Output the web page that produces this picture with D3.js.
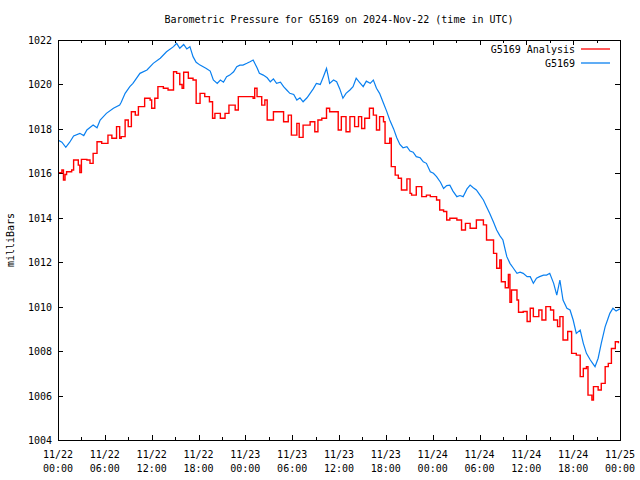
<!DOCTYPE html>
<html><head><meta charset="utf-8">
<script src="https://cdn.jsdelivr.net/npm/d3@7"></script>
<style>
html,body{margin:0;padding:0;background:#fff;}
text{font-family:"DejaVu Sans Mono","Liberation Mono",monospace;font-size:10px;fill:#000;}
</style></head>
<body>
<svg id="chart" width="640" height="480"></svg>
<script>
// Hours after 2024-11-22 00:00 UTC
const analysisHours = [0,0.5,0.7,0.9,1.1,1.75,2.0,2.6,2.8,3.0,3.7,4.1,4.5,5.0,5.6,6.4,6.9,7.5,7.9,8.1,8.6,9.0,9.4,9.9,10.3,10.7,11.1,11.8,12.0,12.4,12.8,13.5,14.1,14.8,15.2,15.6,15.9,16.1,16.7,17.3,17.7,18.2,18.8,19.4,19.8,20.1,20.8,21.4,21.9,22.7,23.1,24.2,25.0,25.2,25.5,26.1,26.5,26.8,27.6,28.4,28.9,29.5,29.9,30.6,30.9,31.4,32.3,32.9,33.3,33.8,34.4,34.8,35.7,35.9,36.3,36.9,37.4,38.0,38.5,38.9,39.3,39.9,40.4,40.8,41.2,41.7,41.9,42.5,42.7,43.2,43.6,44.0,44.7,45.1,45.3,45.9,46.6,47.2,47.7,48.5,48.9,49.4,49.8,50.2,51.1,51.7,52.2,52.8,53.6,54.5,54.9,55.8,56.2,56.6,56.8,57.3,57.7,57.9,58.1,58.8,59.0,59.6,60.1,60.5,60.9,61.6,62.0,62.5,63.1,63.5,64.0,64.3,64.7,65.3,65.8,66.4,66.9,67.3,67.7,67.9,68.4,68.6,69.2,69.6,70.1,70.5,70.9,71.4,71.8];
const analysisValues = [1016.03,1016.15,1015.7,1015.95,1016.07,1016.15,1016.6,1016.37,1016.03,1016.63,1016.6,1016.45,1016.9,1017.42,1017.35,1017.72,1017.58,1018.1,1017.58,1017.65,1018.4,1018.1,1018.77,1018.62,1019.0,1019.0,1019.38,1019.3,1018.93,1019.38,1019.9,1019.83,1019.75,1020.57,1020.5,1020.0,1019.83,1020.55,1020.28,1020.2,1019.15,1019.6,1019.45,1019.22,1018.48,1018.7,1018.48,1018.7,1019.07,1018.85,1019.45,1019.45,1019.38,1019.83,1019.45,1019.07,1019.3,1018.4,1018.77,1018.77,1018.32,1018.62,1017.72,1018.25,1017.62,1018.17,1018.32,1017.87,1018.4,1018.48,1018.93,1018.77,1018.77,1017.95,1018.55,1017.87,1018.55,1018.1,1018.55,1018.02,1018.48,1018.93,1018.62,1017.95,1018.55,1018.32,1017.35,1017.58,1016.3,1015.92,1015.78,1015.25,1015.75,1015.1,1015.02,1015.4,1014.95,1015.02,1014.95,1014.8,1014.35,1014.28,1013.9,1013.98,1013.9,1013.45,1013.75,1013.53,1013.9,1013.68,1013.0,1012.4,1011.73,1012.1,1011.12,1010.85,1011.45,1010.2,1010.75,1010.3,1009.75,1009.78,1009.33,1009.93,1009.55,1009.85,1009.4,1010.0,1009.85,1009.4,1009.1,1009.55,1008.5,1008.88,1007.9,1007.82,1006.85,1007.22,1007.3,1006.02,1005.8,1006.4,1006.25,1006.55,1007.3,1007.45,1008.12,1008.42,1008.35];

const stationHours = [0,0.5,1.0,1.5,2.0,2.8,3.3,3.7,4.5,5.0,5.4,6.2,7.1,7.9,8.1,8.6,9.2,9.6,10.5,11.4,12.2,13.1,13.9,14.8,15.2,15.6,16.1,16.5,16.9,17.3,17.7,18.2,19.0,19.5,19.9,20.4,20.8,21.2,21.6,22.0,22.5,22.9,23.3,23.7,24.2,24.6,25.0,25.5,25.8,26.3,26.8,27.2,27.6,28.0,28.5,28.9,29.3,29.7,30.2,30.6,31.0,31.4,31.9,32.3,32.7,33.1,33.6,34.0,34.4,34.6,34.8,35.3,35.7,36.1,36.5,36.9,37.4,37.8,38.2,38.6,39.1,39.5,40.0,40.4,40.8,41.2,41.7,42.1,42.5,43.0,43.4,43.8,44.2,44.7,45.1,45.5,45.9,46.4,46.8,47.2,47.7,48.1,48.5,49.0,49.4,49.8,50.2,50.6,51.1,51.5,51.9,52.4,52.8,53.2,53.6,54.0,54.5,54.9,55.3,55.8,56.2,56.6,57.0,57.5,57.9,58.3,58.8,59.2,59.6,60.1,60.5,60.9,61.3,61.7,62.2,62.6,63.0,63.5,63.9,64.3,64.7,65.2,65.6,66.0,66.4,66.9,67.3,67.7,68.2,68.5,68.8,69.2,69.6,70.1,70.4,70.7,71.1,71.5,72.0];
const stationValues = [1017.5,1017.4,1017.17,1017.4,1017.68,1017.8,1017.7,1017.95,1018.17,1018.05,1018.4,1018.7,1018.93,1019.07,1019.2,1019.6,1019.9,1020.05,1020.5,1020.65,1020.95,1021.18,1021.47,1021.7,1021.85,1021.63,1021.8,1021.6,1021.7,1021.25,1021.0,1020.87,1020.72,1020.6,1020.2,1020.05,1020.2,1020.1,1020.35,1020.42,1020.57,1020.8,1020.87,1020.87,1020.95,1021.02,1021.1,1020.75,1020.5,1020.42,1020.3,1020.12,1020.25,1020.05,1020.1,1019.9,1019.75,1019.6,1019.55,1019.3,1019.4,1019.22,1019.4,1019.6,1019.8,1020.05,1020.0,1020.35,1020.72,1020.4,1020.05,1020.2,1020.12,1019.8,1019.38,1019.6,1019.75,1019.9,1020.28,1020.1,1019.9,1020.15,1020.05,1020.2,1019.83,1019.6,1019.15,1018.8,1018.4,1018.0,1017.6,1017.3,1017.15,1017.2,1017.0,1016.95,1016.75,1016.7,1016.52,1016.45,1016.07,1016.0,1015.85,1015.6,1015.32,1015.45,1015.47,1015.2,1014.95,1015.0,1014.95,1015.3,1015.47,1015.35,1015.25,1015.05,1014.8,1014.5,1014.2,1013.8,1013.45,1013.2,1013.0,1012.25,1011.95,1011.75,1011.5,1011.55,1011.5,1011.35,1011.35,1011.05,1011.28,1011.35,1011.42,1011.42,1011.5,1011.05,1010.52,1011.2,1010.3,1009.93,1009.85,1009.4,1008.8,1008.95,1008.35,1007.9,1007.6,1007.45,1007.3,1007.68,1008.35,1009.1,1009.4,1009.7,1009.93,1009.8,1009.9];

const yTicks = [1004,1006,1008,1010,1012,1014,1016,1018,1020,1022];
const xTickHours = [0,6,12,18,24,30,36,42,48,54,60,66,72];
const xTickDates = ["11/22","11/22","11/22","11/22","11/23","11/23","11/23","11/23","11/24","11/24","11/24","11/24","11/25"];
const xTickTimes = ["00:00","06:00","12:00","18:00","00:00","06:00","12:00","18:00","00:00","06:00","12:00","18:00","00:00"];
const seriesNames = ["G5169 Analysis","G5169"];
const seriesColors = ["#ff0000","#0a80f0"];

const L=58, R=620, T=40, B=440;
const svg = d3.select("#chart");
const x = d3.scaleLinear().domain([0,72]).range([L,R]);
const y = d3.scaleLinear().domain([1004,1022]).range([B,T]);

svg.append("text").attr("x",339).attr("y",23).attr("text-anchor","middle")
  .text("Barometric Pressure for G5169 on 2024-Nov-22 (time in UTC)");
svg.append("text").attr("transform","translate(14,240) rotate(-90)").attr("text-anchor","middle").text("milliBars");

const tk = svg.append("g").attr("stroke","#000").attr("stroke-width",1).attr("shape-rendering","crispEdges");
yTicks.forEach(v=>{
  const yy=Math.round(y(v))+0.5;
  tk.append("line").attr("x1",L).attr("x2",L+5).attr("y1",yy).attr("y2",yy);
  tk.append("line").attr("x1",R-5).attr("x2",R).attr("y1",yy).attr("y2",yy);
});
const minor = d3.range(3,72,6);
xTickHours.forEach(h=>{
  const xx=Math.round(x(h))+0.5;
  tk.append("line").attr("x1",xx).attr("x2",xx).attr("y1",B).attr("y2",B-5);
  tk.append("line").attr("x1",xx).attr("x2",xx).attr("y1",T).attr("y2",T+5);
});
minor.forEach(h=>{
  const xx=Math.round(x(h))+0.5;
  tk.append("line").attr("x1",xx).attr("x2",xx).attr("y1",B).attr("y2",B-3);
  tk.append("line").attr("x1",xx).attr("x2",xx).attr("y1",T).attr("y2",T+3);
});

yTicks.forEach(v=>{
  svg.append("text").attr("x",52).attr("y",y(v)+4).attr("text-anchor","end").text(v);
});
xTickHours.forEach((h,i)=>{
  svg.append("text").attr("x",x(h)).attr("y",458).attr("text-anchor","middle").text(xTickDates[i]);
  svg.append("text").attr("x",x(h)).attr("y",472).attr("text-anchor","middle").text(xTickTimes[i]);
});

svg.append("clipPath").attr("id","pc").append("rect").attr("x",L).attr("y",T).attr("width",R-L).attr("height",B-T);
const redLine = d3.line().x(d=>x(d[0])).y(d=>y(d[1])).curve(d3.curveStepAfter);
const blueLine = d3.line().x(d=>x(d[0])).y(d=>y(d[1]));
svg.append("path").datum(d3.zip(analysisHours,analysisValues)).attr("d",redLine)
  .attr("fill","none").attr("stroke",seriesColors[0]).attr("stroke-width",1.4).attr("clip-path","url(#pc)");
svg.append("path").datum(d3.zip(stationHours,stationValues)).attr("d",blueLine)
  .attr("fill","none").attr("stroke",seriesColors[1]).attr("stroke-width",1.2).attr("clip-path","url(#pc)");

seriesNames.forEach((n,i)=>{
  const ly = 49 + i*14;
  svg.append("text").attr("x",575).attr("y",ly+4).attr("text-anchor","end").text(n);
  svg.append("line").attr("x1",581).attr("x2",610).attr("y1",ly).attr("y2",ly)
    .attr("stroke",seriesColors[i]).attr("stroke-width",1.3);
});

svg.append("rect").attr("x",L+0.5).attr("y",T+0.5).attr("width",R-L).attr("height",B-T)
  .attr("fill","none").attr("stroke","#000").attr("stroke-width",1).attr("shape-rendering","crispEdges");
</script>
</body></html>
